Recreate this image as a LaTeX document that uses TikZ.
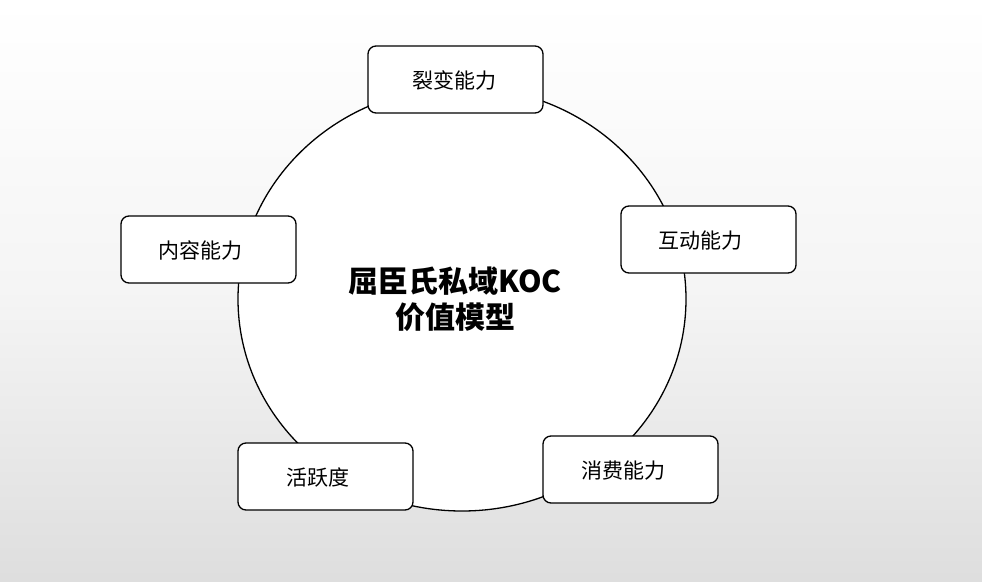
\documentclass[tikz,border=0pt]{standalone}
\usepackage{fontspec}
\setmainfont{Noto Sans CJK SC}
\begin{document}
\begin{tikzpicture}[x=1pt,y=-1pt,
  capbox/.style={draw=black,line width=1.3pt,rounded corners=8pt,fill=white,minimum width=175pt,minimum height=67pt,font=\fontsize{21}{24}\selectfont,inner sep=0pt,text depth=0pt}]
\shade[top color=white,bottom color=black!13,middle color=white!96!black] (0,0) rectangle (982,581);
\useasboundingbox (0,0) rectangle (982,581);
\draw[line width=1.3pt,fill=white] (462,299) ellipse [x radius=224,y radius=212];
\node[font=\bfseries\fontsize{30}{36}\selectfont,align=center] (c) at (455,299) {屈臣氏私域KOC\\价值模型};
\node[capbox] (a) at (455.5,79.5) {\hspace*{-2pt}裂变能力};
\node[capbox] (b) at (708.5,239.5) {\hspace*{-16pt}互动能力};
\node[capbox] (d) at (208.5,249.5) {\hspace*{-16pt}内容能力};
\node[capbox] (e) at (325.5,476.5) {\hspace*{-16pt}活跃度};
\node[capbox] (f) at (630.5,469.5) {\hspace*{-14pt}消费能力};
\end{tikzpicture}
\end{document}
